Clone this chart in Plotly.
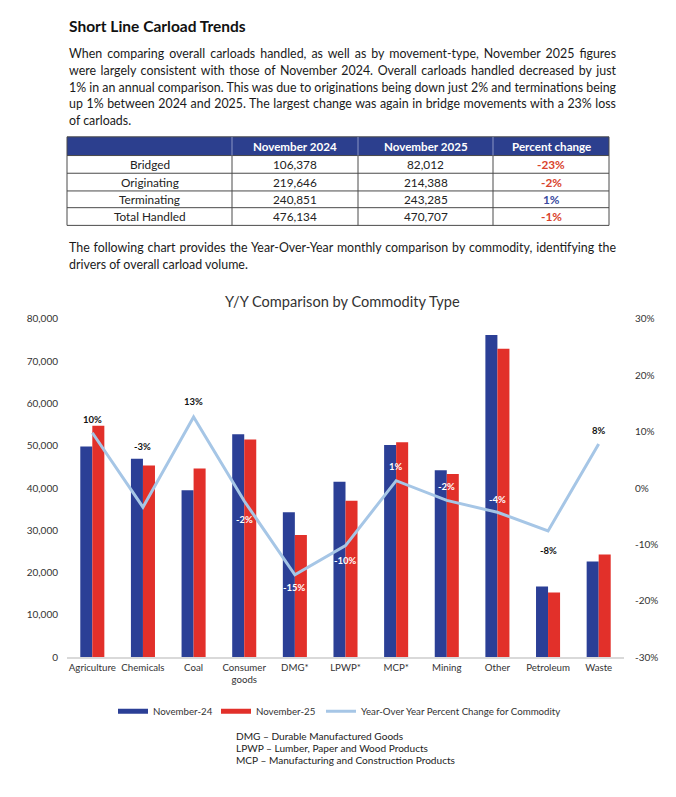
import plotly.graph_objects as go

W, H = 676, 797
FONT = "Lato"

# ---------------- data ----------------
categories = ["Agriculture", "Chemicals", "Coal", "Consumer<br>goods", "DMG*", "LPWP*",
              "MCP*", "Mining", "Other", "Petroleum", "Waste"]
nov24 = [49800, 46900, 39500, 52700, 34300, 41500, 50200, 44200, 76200, 16700, 22600]
nov25 = [54700, 45300, 44600, 51500, 28900, 37000, 50800, 43300, 72900, 15300, 24300]
yoy_pct = [9.8, -3.4, 12.6, -2.3, -15.4, -10.2, 1.3, -2.2, -4.3, -7.6, 7.8]

left_ticks = [0, 10000, 20000, 30000, 40000, 50000, 60000, 70000, 80000]
left_tick_text = ["0", "10,000", "20,000", "30,000", "40,000", "50,000", "60,000", "70,000", "80,000"]
right_ticks = [-30, -20, -10, 0, 10, 20, 30]
right_tick_text = ["-30%", "-20%", "-10%", "0%", "10%", "20%", "30%"]

table_header = ["", "November 2024", "November 2025", "Percent change"]
table_rows = ["Bridged", "Originating", "Terminating", "Total Handled"]
table_2024 = ["106,378", "219,646", "240,851", "476,134"]
table_2025 = ["82,012", "214,388", "243,285", "470,707"]
table_pct = ["-23%", "-2%", "1%", "-1%"]

title = "Short Line Carload Trends"
para1 = [
    "When comparing overall carloads handled, as well as by movement-type, November 2025 figures",
    "were largely consistent with those of November 2024. Overall carloads handled decreased by just",
    "1% in an annual comparison. This was due to originations being down just 2% and terminations being",
    "up 1% between 2024 and 2025. The largest change was again in bridge movements with a 23% loss",
    "of carloads.",
]
para2 = [
    "The following chart provides the Year-Over-Year monthly comparison by commodity, identifying the",
    "drivers of overall carload volume.",
]
chart_title = "Y/Y Comparison by Commodity Type"
footnotes = [
    "DMG \u2013 Durable Manufactured Goods",
    "LPWP \u2013 Lumber, Paper and Wood Products",
    "MCP \u2013 Manufacturing and Construction Products",
]

# ---------------- styles ----------------
BLUE = "#2B3F96"
RED = "#E2302A"
LINE = "#A6C6E6"
NAVY = "#2C3F8E"
GRID = "#4a4a4a"
label_colors = ["#111", "#111", "#111", "white", "white", "white", "white", "white", "white", "#111", "#111"]
label_shift = [13, 61, 15, -19, -13, -15, 14, 14, 13, -20, 14]

col_edges = [67, 232, 358, 493, 609]
row_edges = [132, 151, 169, 187, 204, 222]


def px(x):
    return x / W


def py(y):
    return 1 - y / H


fig = go.Figure()

fig.add_trace(go.Bar(x=categories, y=nov24, name="November-24", marker_color=BLUE,
                     marker_line_width=0, showlegend=False))
fig.add_trace(go.Bar(x=categories, y=nov25, name="November-25", marker_color=RED,
                     marker_line_width=0, showlegend=False))
fig.add_trace(go.Scatter(x=categories, y=yoy_pct, yaxis="y2", mode="lines",
                         name="Year-Over Year Percent Change for Commodity",
                         line=dict(color=LINE, width=3), legend="legend3"))
# legend keys drawn as wide bars (as in the reference)
fig.add_trace(go.Scatter(x=[None], y=[None], mode="lines", name="November-24",
                         line=dict(color=BLUE, width=5), legend="legend"))
fig.add_trace(go.Scatter(x=[None], y=[None], mode="lines", name="November-25",
                         line=dict(color=RED, width=5), legend="legend2"))

shapes = []
annotations = []

# ---- table drawn with shapes + text ----
shapes.append(dict(type="rect", xref="paper", yref="paper", x0=px(col_edges[0]), x1=px(col_edges[-1]),
                   y0=py(row_edges[1]), y1=py(row_edges[0]), fillcolor=NAVY, line=dict(width=0),
                   layer="below"))
for yy in row_edges:
    shapes.append(dict(type="line", xref="paper", yref="paper", x0=px(col_edges[0]), x1=px(col_edges[-1]),
                       y0=py(yy), y1=py(yy), line=dict(color=GRID, width=1)))
for i, xx in enumerate(col_edges):
    ytop = row_edges[0] if i in (0, len(col_edges) - 1) else row_edges[1]
    shapes.append(dict(type="line", xref="paper", yref="paper", x0=px(xx), x1=px(xx),
                       y0=py(row_edges[-1]), y1=py(ytop), line=dict(color=GRID, width=1)))
    if 0 < i < len(col_edges) - 1:
        shapes.append(dict(type="line", xref="paper", yref="paper", x0=px(xx), x1=px(xx),
                           y0=py(row_edges[1]), y1=py(row_edges[0]),
                           line=dict(color="#8a96c4", width=1)))

col_centers = [(a + b) / 2 for a, b in zip(col_edges[:-1], col_edges[1:])]
row_centers = [(a + b) / 2 for a, b in zip(row_edges[:-1], row_edges[1:])]
for j, h in enumerate(table_header):
    if h:
        annotations.append(dict(x=px(col_centers[j]), y=py(row_centers[0]), xref="paper", yref="paper",
                                text=f"<b>{h}</b>", showarrow=False, xanchor="center", yanchor="middle",
                                font=dict(family=FONT, size=11.6, color="white")))
columns = [table_rows, table_2024, table_2025, table_pct]
for j, col in enumerate(columns):
    for i, val in enumerate(col):
        if j == 3:
            color = "#D9432C" if val.startswith("-") else "#3A4AA0"
            txt = f"<b>{val}</b>"
        else:
            color = "#222"
            txt = val
        annotations.append(dict(x=px(col_centers[j]), y=py(row_centers[i + 1]), xref="paper", yref="paper",
                                text=txt, showarrow=False, xanchor="center", yanchor="middle",
                                font=dict(family=FONT, size=11.8, color=color)))

# ---- data labels on the line ----
for c, v, col, s in zip(categories, yoy_pct, label_colors, label_shift):
    annotations.append(dict(x=c, y=v, xref="x", yref="y2", text=f"<b>{round(v):d}%</b>",
                            showarrow=False, yshift=s,
                            font=dict(family=FONT, size=9.5, color=col)))

# ---- page text ----
annotations.append(dict(x=px(67), y=py(19), xref="paper", yref="paper", xanchor="left",
                        yanchor="middle", showarrow=False, text=f"<b>{title}</b>",
                        font=dict(family=FONT, size=15.5, color="#111")))
for i, line in enumerate(para1):
    annotations.append(dict(x=px(67), y=py(47.5 + 17 * i), xref="paper", yref="paper",
                            xanchor="left", yanchor="middle", showarrow=False, text=line,
                            font=dict(family=FONT, size=12.4, color="#1a1a1a")))
for i, line in enumerate(para2):
    annotations.append(dict(x=px(67), y=py(244.3 + 17.4 * i), xref="paper", yref="paper",
                            xanchor="left", yanchor="middle", showarrow=False, text=line,
                            font=dict(family=FONT, size=12.4, color="#1a1a1a")))
annotations.append(dict(x=px(342), y=py(299.5), xref="paper", yref="paper", xanchor="center",
                        yanchor="middle", showarrow=False, text=chart_title,
                        font=dict(family=FONT, size=14.6, color="#333")))
for i, line in enumerate(footnotes):
    annotations.append(dict(x=px(234), y=py(741.5 + 12 * i), xref="paper", yref="paper",
                            xanchor="left", yanchor="middle", showarrow=False, text=line,
                            font=dict(family=FONT, size=10.1, color="#222")))

leg_common = dict(orientation="h", yanchor="middle", y=py(716), xanchor="left",
                  font=dict(family=FONT, size=9.7, color="#333"), bgcolor="rgba(0,0,0,0)",
                  itemwidth=30, borderwidth=0)

fig.update_layout(
    width=W, height=H,
    margin=dict(l=0, r=0, t=0, b=0),
    paper_bgcolor="white", plot_bgcolor="white",
    barmode="group", bargap=0.525, bargroupgap=0,
    font=dict(family=FONT, color="#333"),
    showlegend=True,
    legend=dict(x=px(113), **leg_common),
    legend2=dict(x=px(216), **leg_common),
    legend3=dict(x=px(321), **leg_common),
    xaxis=dict(domain=[px(67), px(624)], showgrid=False, zeroline=False, showline=True,
               linecolor="#D9D9D9", linewidth=1.5, ticks="",
               tickfont=dict(family=FONT, size=9.7, color="#333"), anchor="y"),
    yaxis=dict(domain=[py(661), py(317)], range=[0, 80000], showgrid=False, zeroline=False,
               showline=False, tickvals=left_ticks, ticktext=left_tick_text, ticks="",
               ticklabelstandoff=8, tickfont=dict(family=FONT, size=10, color="#333")),
    yaxis2=dict(overlaying="y", side="right", anchor="x", range=[-30, 30], showgrid=False,
                zeroline=False, showline=False, tickvals=right_ticks, ticktext=right_tick_text,
                ticks="", ticklabelstandoff=10, tickfont=dict(family=FONT, size=10, color="#333")),
    shapes=shapes,
    annotations=annotations,
)

# page setup: page exactly the figure size; justify paragraph lines to the reference text width
justify_lines = para1[:-1] + para2[:-1]
post = """
var de = document.documentElement, bd = document.body;
de.style.margin = '0'; de.style.padding = '0'; de.style.overflow = 'hidden'; de.style.height = '797px';
bd.style.margin = '0'; bd.style.padding = '0'; bd.style.overflow = 'hidden'; bd.style.height = '797px';
var gd = document.getElementById('{plot_id}');
if (gd.parentElement) { gd.parentElement.style.lineHeight = '0'; gd.parentElement.style.height = '797px'; }
gd.style.display = 'block';
var targets = %s;
var width = 547;
gd.querySelectorAll('text.annotation-text').forEach(function(el) {
  var t = el.textContent;
  if (targets.indexOf(t) >= 0) {
    var n = (t.match(/ /g) || []).length;
    var len = el.getComputedTextLength();
    var b0 = el.getBBox().x;
    if (n > 0) { el.style.wordSpacing = ((width - len) / n) + 'px'; }
    var b1 = el.getBBox().x;
    var x0 = parseFloat(el.getAttribute('x') || '0');
    el.setAttribute('x', x0 + (b0 - b1));
  }
});
""" % (str(justify_lines).replace("'", '"'))

fig.write_html("out.html", post_script=post, config={"displayModeBar": False})
